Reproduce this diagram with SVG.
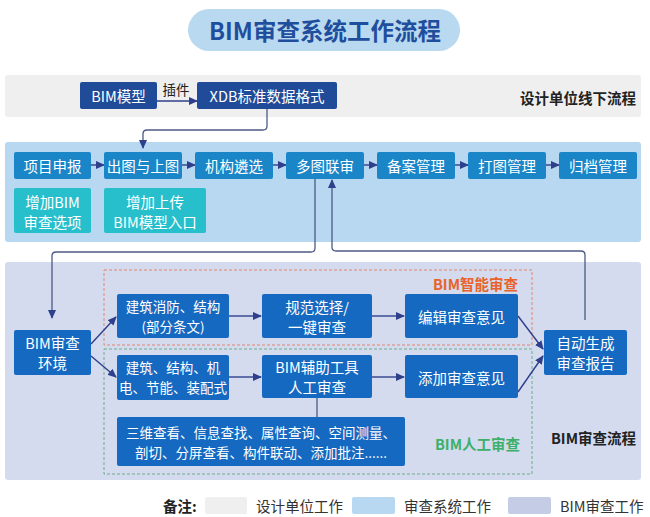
<svg xmlns="http://www.w3.org/2000/svg" width="650" height="517" viewBox="0 0 650 517">
<defs>
<style>
text{font-family:"Noto Sans CJK SC","Noto Sans",sans-serif;dominant-baseline:central;text-anchor:middle}
.w{fill:#fff;font-size:14.5px}
.s{font-size:13.5px}
.nav{fill:#1f4b98}
.row{fill:#1a86c8}
.teal{fill:#27bfcc}
.rev{fill:#1669c1}
.lbl{font-size:14.5px;font-weight:bold;fill:#222;text-anchor:end}
.ln{fill:none;stroke:#2e3f8c;stroke-width:1.4}
.cn{fill:none;stroke:#4d5a85;stroke-width:1.3}
.lg{font-size:14.5px;fill:#333;text-anchor:start}
</style>
<marker id="ah" markerUnits="userSpaceOnUse" markerWidth="9" markerHeight="8" refX="8" refY="4" orient="auto">
<path d="M0,0 L9,4 L0,8 Z" fill="#2e3f8c"/>
</marker>
</defs>

<g id="title">
<rect x="188" y="9" width="272" height="42" rx="21" fill="#b9d9f1"/>
<text x="325" y="30" style="font-size:23.5px;font-weight:bold;fill:#1f4e9c">BIM审查系统工作流程</text>
</g>

<g id="bands">
<rect x="5" y="75" width="636" height="42" rx="3" fill="#efefef"/>
<rect x="5" y="142" width="636" height="100" rx="3" fill="#b8d7f0"/>
<rect x="5" y="262" width="636" height="218" rx="3" fill="#d4dbee"/>
<text class="lbl" x="636" y="97">设计单位线下流程</text>
<text class="lbl" x="636" y="437">BIM审查流程</text>
</g>

<g id="groups">
<rect x="104" y="270" width="428" height="75" fill="none" stroke="#e0876a" stroke-width="1" stroke-dasharray="3,2"/>
<text x="518" y="283" style="font-size:14.5px;font-weight:bold;fill:#e8632b;text-anchor:end">BIM智能审查</text>
<rect x="104" y="349" width="428" height="125" fill="none" stroke="#6fae86" stroke-width="1" stroke-dasharray="3,2"/>
<text x="520" y="443" style="font-size:14.5px;font-weight:bold;fill:#3cb06a;text-anchor:end">BIM人工审查</text>
</g>

<g id="connectors">
<line class="ln" x1="157" y1="101" x2="197" y2="101" marker-end="url(#ah)"/>
<text x="176" y="89" style="font-size:13.5px;fill:#222">插件</text>
<path class="cn" d="M267,109 V126 Q267,130 263,130 H147 Q143,130 143,134 V148" marker-end="url(#ah)"/>
<line class="ln" x1="91" y1="165" x2="104" y2="165" marker-end="url(#ah)"/>
<line class="ln" x1="182" y1="165" x2="195" y2="165" marker-end="url(#ah)"/>
<line class="ln" x1="273" y1="165" x2="286" y2="165" marker-end="url(#ah)"/>
<line class="ln" x1="364" y1="165" x2="377" y2="165" marker-end="url(#ah)"/>
<line class="ln" x1="455" y1="165" x2="468" y2="165" marker-end="url(#ah)"/>
<line class="ln" x1="546" y1="165" x2="559" y2="165" marker-end="url(#ah)"/>
<path class="cn" d="M315,179 V248 Q315,252 311,252 H56 Q52,252 52,256 V318" marker-end="url(#ah)"/>
<path class="cn" d="M585,320 V255 Q585,251 581,251 H336 Q332,251 332,247 V180" marker-end="url(#ah)"/>
<line class="ln" x1="91" y1="344" x2="116" y2="317" marker-end="url(#ah)"/>
<line class="ln" x1="91" y1="356" x2="116" y2="377" marker-end="url(#ah)"/>
<line class="ln" x1="229" y1="316" x2="261" y2="316" marker-end="url(#ah)"/>
<line class="ln" x1="372" y1="316" x2="404" y2="316" marker-end="url(#ah)"/>
<line class="ln" x1="229" y1="377" x2="261" y2="377" marker-end="url(#ah)"/>
<line class="ln" x1="372" y1="377" x2="404" y2="377" marker-end="url(#ah)"/>
<line class="ln" x1="518" y1="316" x2="543" y2="349" marker-end="url(#ah)"/>
<line class="ln" x1="518" y1="392" x2="543" y2="356" marker-end="url(#ah)"/>
<line class="cn" x1="317" y1="398" x2="317" y2="417"/>
</g>

<g id="n-bim"><rect class="nav" x="80" y="82" width="77" height="27" rx="2"/><text class="w" x="118.5" y="95.5">BIM模型</text></g>
<g id="n-xdb"><rect class="nav" x="197" y="82" width="140" height="27" rx="2"/><text class="w" x="267" y="95.5">XDB标准数据格式</text></g>

<g id="n-r1"><rect class="row" x="14" y="152" width="77" height="27" rx="2"/><text class="w" x="52.5" y="165.5">项目申报</text></g>
<g id="n-r2"><rect class="row" x="104" y="152" width="78" height="27" rx="2"/><text class="w" x="143" y="165.5">出图与上图</text></g>
<g id="n-r3"><rect class="row" x="195" y="152" width="78" height="27" rx="2"/><text class="w" x="234" y="165.5">机构遴选</text></g>
<g id="n-r4"><rect class="row" x="286" y="152" width="78" height="27" rx="2"/><text class="w" x="325" y="165.5">多图联审</text></g>
<g id="n-r5"><rect class="row" x="377" y="152" width="78" height="27" rx="2"/><text class="w" x="416" y="165.5">备案管理</text></g>
<g id="n-r6"><rect class="row" x="468" y="152" width="78" height="27" rx="2"/><text class="w" x="507" y="165.5">打图管理</text></g>
<g id="n-r7"><rect class="row" x="559" y="152" width="78" height="27" rx="2"/><text class="w" x="598" y="165.5">归档管理</text></g>

<g id="n-t1"><rect class="teal" x="14" y="188" width="77" height="45" rx="2"/><text class="w" x="52.5" y="201">增加BIM</text><text class="w" x="52.5" y="221">审查选项</text></g>
<g id="n-t2"><rect class="teal" x="104" y="188" width="102" height="45" rx="2"/><text class="w" x="155" y="201">增加上传</text><text class="w" x="155" y="221">BIM模型入口</text></g>

<g id="n-env"><rect class="rev" x="14" y="330" width="77" height="45" rx="2"/><text class="w" x="52.5" y="342">BIM审查</text><text class="w" x="52.5" y="362">环境</text></g>
<g id="n-a1"><rect class="rev" x="117" y="294" width="112" height="44" rx="2"/><text class="w s" x="173" y="306">建筑消防、结构</text><text class="w s" x="173" y="326">(部分条文)</text></g>
<g id="n-a2"><rect class="rev" x="262" y="294" width="110" height="44" rx="2"/><text class="w" x="317" y="306">规范选择/</text><text class="w" x="317" y="326">一键审查</text></g>
<g id="n-a3"><rect class="rev" x="405" y="294" width="113" height="44" rx="2"/><text class="w" x="461.5" y="316">编辑审查意见</text></g>
<g id="n-b1"><rect class="rev" x="117" y="355" width="112" height="45" rx="2"/><text class="w s" x="173" y="367">建筑、结构、机</text><text class="w s" x="173" y="387">电、节能、装配式</text></g>
<g id="n-b2"><rect class="rev" x="262" y="355" width="110" height="43" rx="2"/><text class="w" x="317" y="366">BIM辅助工具</text><text class="w" x="317" y="386">人工审查</text></g>
<g id="n-b3"><rect class="rev" x="405" y="355" width="113" height="43" rx="2"/><text class="w" x="461.5" y="377">添加审查意见</text></g>
<g id="n-tools"><rect class="rev" x="117" y="417" width="288" height="49" rx="2"/><text class="w" x="261" y="432" style="font-size:13.5px">三维查看、信息查找、属性查询、空间测量、</text><text class="w" x="261" y="452" style="font-size:13.5px">剖切、分屏查看、构件联动、添加批注......</text></g>
<g id="n-auto"><rect class="rev" x="544" y="330" width="83" height="45" rx="2"/><text class="w" x="585.5" y="342">自动生成</text><text class="w" x="585.5" y="362">审查报告</text></g>

<g id="legend">
<text x="163" y="505" style="font-size:14.5px;font-weight:bold;fill:#222;text-anchor:start">备注:</text>
<rect x="205" y="497" width="42" height="17" rx="2" fill="#efefef"/>
<text class="lg" x="256" y="505">设计单位工作</text>
<rect x="352" y="497" width="43" height="17" rx="2" fill="#b8d7f0"/>
<text class="lg" x="404" y="505">审查系统工作</text>
<rect x="508" y="497" width="43" height="17" rx="2" fill="#c5cde6"/>
<text class="lg" x="560" y="505">BIM审查工作</text>
</g>
</svg>
